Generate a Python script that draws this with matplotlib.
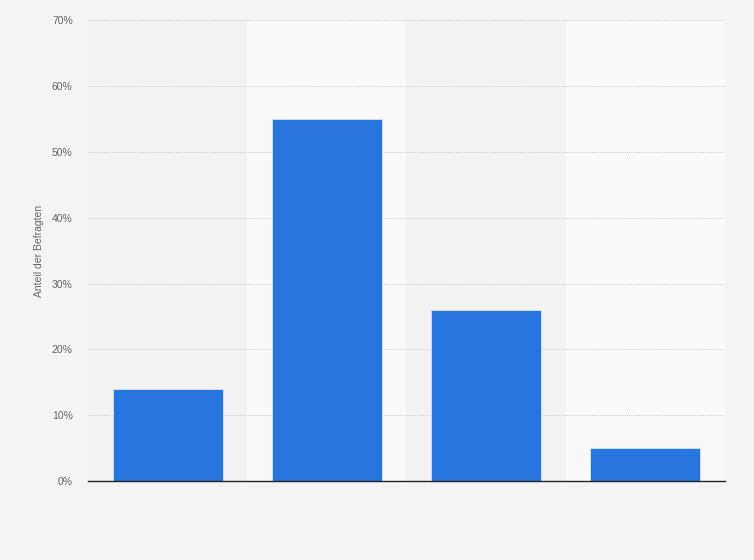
import matplotlib.pyplot as plt
import numpy as np

plt.rcParams['font.family'] = ['Liberation Sans', 'DejaVu Sans']

# Survey values (share of respondents, %)
categories = ['A', 'B', 'C', 'D']
values = [14, 55, 26, 5]
yticks = [0, 10, 20, 30, 40, 50, 60, 70]

bar_color = '#2876dd'
fig = plt.figure(figsize=(7.54, 5.60), dpi=100)
fig.patch.set_facecolor('#f4f4f4')
ax = fig.add_axes([0.1167, 0.141, 0.8448, 0.823])
ax.set_facecolor('#f4f4f4')

x = np.arange(len(categories))
# alternating background bands per category
for i in x:
    ax.axvspan(i - 0.5, i + 0.5, color='#f2f2f2' if i % 2 == 0 else '#f9f9f9', zorder=0, lw=0)

ax.bar(x, values, width=0.69, color=bar_color, edgecolor='#d8e4f5', linewidth=0.6, zorder=3)

ax.set_xlim(-0.5, len(categories) - 0.5)
ax.set_ylim(0, 70)
ax.set_yticks(yticks)
ax.set_yticklabels([f'{t}%' for t in yticks], fontsize=7.5, color='#666666')
ax.set_xticks([])
ax.grid(axis='y', color='#cfcfcf', linestyle=(0, (1, 1)), linewidth=0.7, zorder=1)
ax.tick_params(axis='y', length=0, pad=11)

for s in ['top', 'right', 'left']:
    ax.spines[s].set_visible(False)
ax.spines['bottom'].set_color('#222222')
ax.spines['bottom'].set_linewidth(1.0)
ax.spines['bottom'].set_zorder(4)

ax.set_ylabel('Anteil der Befragten', fontsize=7.5, color='#666666', labelpad=6)

fig.savefig('out.png', dpi=100, facecolor=fig.get_facecolor())
